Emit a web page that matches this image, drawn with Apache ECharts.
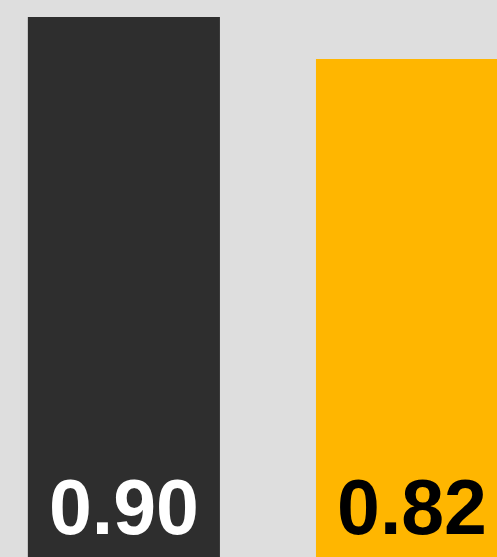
<!DOCTYPE html>
<html>
<head>
<meta charset="utf-8">
<script src="https://cdn.jsdelivr.net/npm/echarts@6/dist/echarts.min.js"></script>
<style>
  html, body { margin: 0; padding: 0; background: #dedede; }
  #chart { width: 497px; height: 557px; }
</style>
</head>
<body>
<div id="chart"></div>
<script>
// data
const categories = ["A", "B"];
const values = [0.90, 0.82];
const barColors = ["#2e2e2e", "#ffb600"];
const labelColors = ["#ffffff", "#000000"];

// axis ranges (the second bar runs off the right edge, bars rise from the bottom)
const xMin = -0.43;
const xMax = 1.295;
const yMin = -0.13;
const yMax = 0.9;

const chart = echarts.init(document.getElementById("chart"));

function renderBar(params, api) {
  const idx = api.value(0);
  const val = api.value(1);
  const top = api.coord([idx, val]);
  const base = api.coord([idx, yMin]);
  const w = api.size([2 / 3, 0])[0];
  return {
    type: "group",
    children: [
      {
        type: "rect",
        shape: { x: top[0] - w / 2, y: top[1], width: w, height: base[1] - top[1] },
        style: { fill: barColors[idx] }
      },
      {
        type: "text",
        x: top[0],
        y: base[1] - 44,
        style: {
          text: val.toFixed(2),
          fill: labelColors[idx],
          font: "bold 77px 'Liberation Sans', Arial, sans-serif",
          align: "center",
          verticalAlign: "middle"
        }
      }
    ]
  };
}

let option = {
  backgroundColor: "#dedede",
  animation: false,
  grid: { left: 0, right: 0, top: 17, bottom: 0 },
  xAxis: {
    type: "value",
    min: xMin,
    max: xMax,
    show: false
  },
  yAxis: {
    type: "value",
    min: yMin,
    max: yMax,
    show: false
  },
  series: [
    {
      type: "custom",
      name: "values",
      renderItem: renderBar,
      data: values.map((v, i) => [i, v, categories[i]]),
      clip: true
    }
  ]
};

chart.setOption(option);
</script>
</body>
</html>
